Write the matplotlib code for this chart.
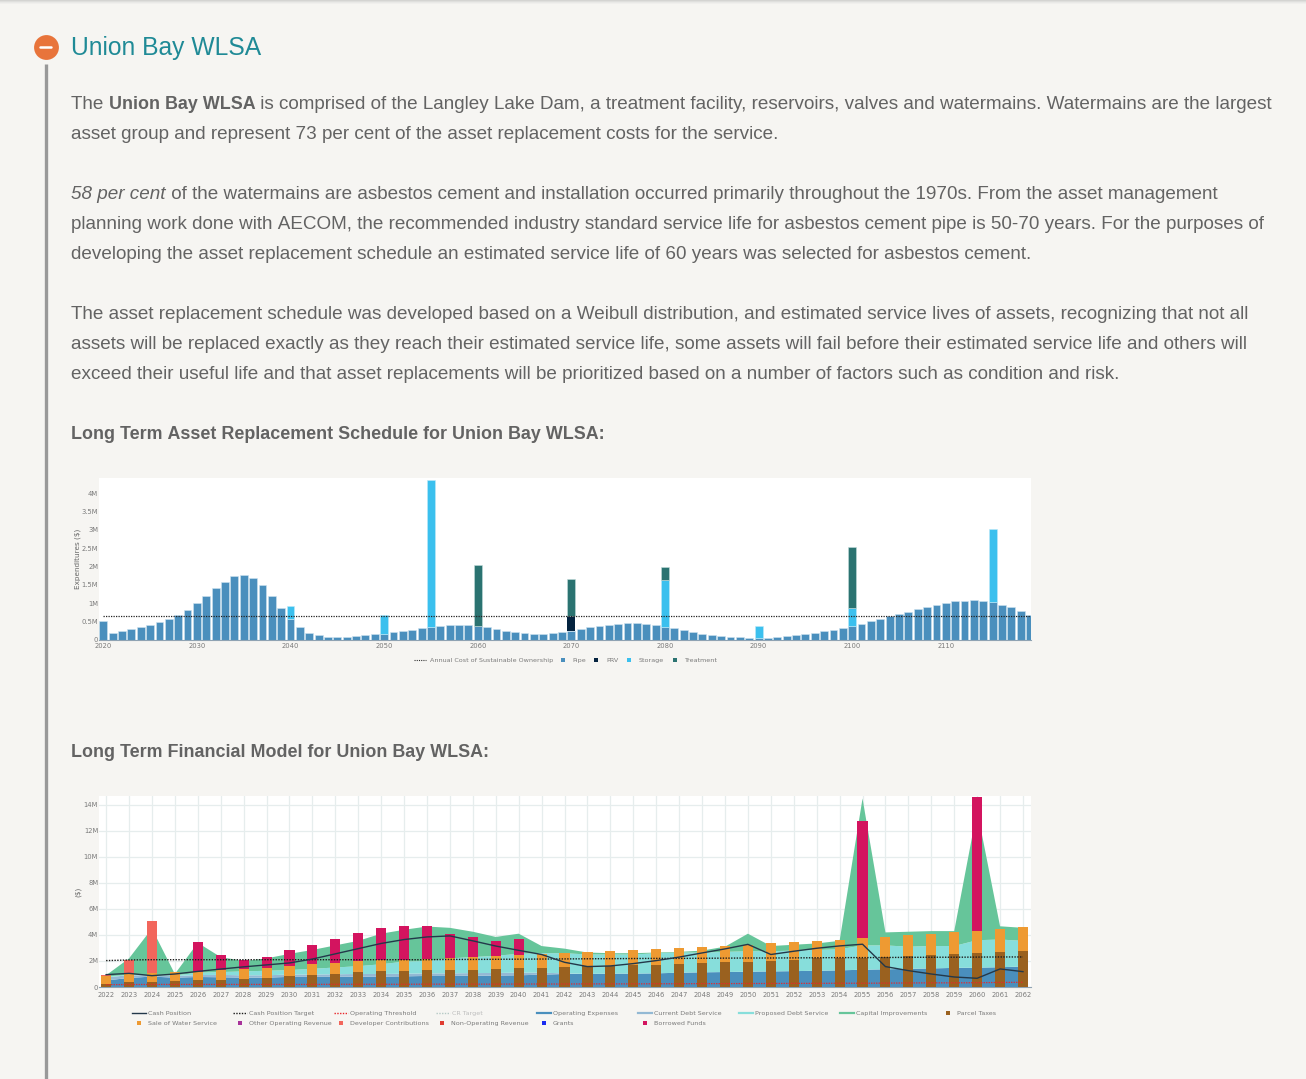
import numpy as np
import matplotlib
matplotlib.use('Agg')
import matplotlib.pyplot as plt

W, H = 1306, 1079
BG = '#f6f5f2'
BODY = '#636363'
TICK = '#7a7a7a'
BODY_FONT = 'Liberation Sans'
BODY_SIZE = 13.63
BOLD_SIZE = 12.86

# replacement schedule, $M per year
sched_years = list(range(2020, 2120))
pipe = [
    0.51, 0.18, 0.235, 0.29, 0.35, 0.42, 0.50, 0.58, 0.68, 0.83,
    1.00, 1.20, 1.42, 1.59, 1.74, 1.78, 1.70, 1.50, 1.21, 0.86,
    0.57, 0.35, 0.20, 0.13, 0.09, 0.07, 0.09, 0.10, 0.13, 0.15,
    0.17, 0.21, 0.25, 0.28, 0.33, 0.36, 0.39, 0.42, 0.42, 0.42,
    0.39, 0.36, 0.31, 0.25, 0.21, 0.18, 0.17, 0.17, 0.20, 0.22,
    0.25, 0.29, 0.35, 0.38, 0.42, 0.445, 0.46, 0.46, 0.445, 0.42,
    0.36, 0.32, 0.27, 0.22, 0.17, 0.14, 0.11, 0.09, 0.07, 0.055,
    0.06, 0.06, 0.09, 0.11, 0.14, 0.16, 0.20, 0.24, 0.28, 0.33,
    0.39, 0.44, 0.51, 0.56, 0.65, 0.70, 0.77, 0.85, 0.90, 0.95,
    1.00, 1.05, 1.06, 1.08, 1.06, 1.03, 0.96, 0.90, 0.79, 0.69,
]
prv = {2070: 0.41}
storage = {2040: 0.36, 2050: 0.51, 2055: 3.99, 2080: 1.27, 2090: 0.31, 2100: 0.49, 2115: 1.99}
treatment = {2060: 1.65, 2070: 0.99, 2080: 0.36, 2100: 1.65}
sustainable_cost = 0.65
sched_ticks = [2020, 2030, 2040, 2050, 2060, 2070, 2080, 2090, 2100, 2110]
sched_yticks = [0, 0.5, 1, 1.5, 2, 2.5, 3, 3.5, 4]
sched_ylabels = ['0', '0.5M', '1M', '1.5M', '2M', '2.5M', '3M', '3.5M', '4M']

# financial model, $M per year
fin_years = list(range(2022, 2063))
parcel = [
    0.26, 0.35, 0.39, 0.44, 0.51, 0.56, 0.64, 0.72, 0.82, 0.90,
    1.03, 1.16, 1.20, 1.23, 1.28, 1.31, 1.34, 1.41, 1.46, 1.49,
    1.54, 1.59, 1.62, 1.67, 1.72, 1.80, 1.85, 1.90, 1.93, 1.98,
    2.05, 2.23, 2.23, 2.26, 2.30, 2.36, 2.47, 2.57, 2.62, 2.70, 2.80,
]
water_sales = [
    0.59, 0.73, 0.66, 0.72, 0.65, 0.72, 0.72, 0.77, 0.80, 0.85,
    0.84, 0.84, 0.85, 0.82, 0.90, 0.95, 1.00, 0.98, 1.00, 1.03,
    1.08, 1.11, 1.15, 1.18, 1.21, 1.23, 1.26, 1.28, 1.33, 1.38,
    1.39, 1.34, 1.42, 1.52, 1.55, 1.62, 1.61, 1.64, 1.69, 1.74, 1.80,
]
developer = [0.05, 0.97, 4.03] + [0] * 38
borrowed = [0, 0, 0, 0,
            2.31, 1.16, 0.69, 0.80, 1.23, 1.51, 1.85, 2.19, 2.45, 2.65, 2.55, 1.85, 1.51, 1.13, 1.24,
            0, 0, 0, 0, 0, 0, 0, 0, 0, 0, 0, 0, 0, 0,
            9.01, 0, 0, 0, 0, 10.3, 0, 0]
opex = [
    0.50, 0.70, 0.80, 0.72, 0.77, 0.75, 0.72, 0.72, 0.78, 0.78,
    0.78, 0.80, 0.80, 0.82, 0.85, 0.85, 0.87, 0.88, 0.90, 0.95,
    1.00, 1.00, 1.03, 1.03, 1.05, 1.10, 1.13, 1.15, 1.18, 1.20,
    1.22, 1.25, 1.28, 1.33, 1.36, 1.40, 1.43, 1.47, 1.49, 1.52, 1.58,
]
current_debt = [
    0.25, 0.20, 0.10, 0.12, 0.15, 0.18, 0.18, 0.18, 0.18, 0.18,
    0.20, 0.20, 0.20, 0.20, 0.20, 0.20, 0.20, 0.20, 0.20, 0.15, 0.05,
] + [0] * 20
proposed_debt = [
    0.05, 0.05, 0.00, 0.05, 0.18, 0.22, 0.30, 0.35, 0.34, 0.44,
    0.52, 0.60, 0.75, 0.93, 0.95, 1.15, 1.23, 1.32, 1.45, 1.50,
    1.55, 1.50, 1.47, 1.47, 1.55, 1.55, 1.52, 1.55, 1.57, 1.55,
    1.58, 1.60, 1.62, 1.87, 1.84, 1.70, 1.72, 1.68, 2.11, 2.13, 1.97,
]
capital = [
    0.10, 1.25, 3.60, 0.11, 2.30, 1.15, 0.80, 0.95, 1.25, 1.45,
    1.70, 1.95, 2.35, 2.45, 2.65, 2.35, 1.95, 1.45, 1.55, 0.55,
    0.35, 0.15, 0.10, 0.10, 0.05, 0.05, 0.15, 0.40, 1.35, 0.40,
    0.45, 0.50, 0.65, 11.3, 1.00, 1.15, 1.15, 1.15, 10.0, 1.02, 1.00,
]
cash = [
    0.95, 1.05, 0.87, 1.00, 1.20, 1.38, 1.55, 1.70, 1.85, 2.15,
    2.55, 2.95, 3.35, 3.65, 3.85, 3.93, 3.55, 3.15, 2.82, 2.50,
    1.90, 1.57, 1.62, 1.80, 2.03, 2.30, 2.62, 2.93, 3.28, 2.50,
    2.75, 2.98, 3.16, 3.29, 1.57, 1.26, 1.00, 0.77, 0.67, 1.39, 1.18,
]
cash_target = [
    2.03, 2.08, 2.10, 2.10, 2.10, 2.10, 2.10, 2.10, 2.10, 2.10,
    2.10, 2.10, 2.10, 2.10, 2.10, 2.12, 2.12, 2.13, 2.14, 2.15,
    2.16, 2.17, 2.18, 2.19, 2.20, 2.20, 2.21, 2.22, 2.23, 2.23,
    2.24, 2.25, 2.26, 2.26, 2.27, 2.28, 2.29, 2.29, 2.30, 2.31, 2.31,
]
op_threshold = [
    0.18, 0.19, 0.20, 0.20, 0.20, 0.20, 0.20, 0.20, 0.20, 0.20,
    0.21, 0.21, 0.21, 0.21, 0.22, 0.22, 0.22, 0.22, 0.23, 0.23,
    0.23, 0.24, 0.24, 0.24, 0.25, 0.25, 0.26, 0.26, 0.27, 0.27,
    0.28, 0.28, 0.29, 0.29, 0.30, 0.31, 0.32, 0.32, 0.33, 0.35, 0.36,
]
fin_yticks = [0, 2, 4, 6, 8, 10, 12, 14]
fin_ylabels = ['0', '2M', '4M', '6M', '8M', '10M', '12M', '14M']

C_PIPE, C_PRV, C_STORAGE, C_TREAT = '#4a8fbd', '#04233f', '#3bc0ee', '#2b7371'
C_OPEX, C_CURRENT, C_PROPOSED, C_CAPITAL = '#4a8fbd', '#93b9d4', '#87dedb', '#66c59a'
C_PARCEL, C_SALE, C_DEV, C_BORROW = '#9a611f', '#ee9a32', '#f2665c', '#d3145f'

paragraphs = [
    (102, [('The ', 'normal', 'normal'), ('Union Bay WLSA', 'bold', 'normal'),
           (' is comprised of the Langley Lake Dam, a treatment facility, reservoirs, valves and watermains. Watermains are the largest', 'normal', 'normal')]),
    (132, [('asset group and represent 73 per cent of the asset replacement costs for the service.', 'normal', 'normal')]),
    (192, [('58 per cent', 'normal', 'italic'),
           (' of the watermains are asbestos cement and installation occurred primarily throughout the 1970s. From the asset management', 'normal', 'normal')]),
    (222, [('planning work done with AECOM, the recommended industry standard service life for asbestos cement pipe is 50-70 years. For the purposes of', 'normal', 'normal')]),
    (252, [('developing the asset replacement schedule an estimated service life of 60 years was selected for asbestos cement.', 'normal', 'normal')]),
    (312, [('The asset replacement schedule was developed based on a Weibull distribution, and estimated service lives of assets, recognizing that not all', 'normal', 'normal')]),
    (342, [('assets will be replaced exactly as they reach their estimated service life, some assets will fail before their estimated service life and others will', 'normal', 'normal')]),
    (372, [('exceed their useful life and that asset replacements will be prioritized based on a number of factors such as condition and risk.', 'normal', 'normal')]),
    (432, [('Long Term Asset Replacement Schedule for Union Bay WLSA:', 'bold', 'normal')]),
    (750, [('Long Term Financial Model for Union Bay WLSA:', 'bold', 'normal')]),
]


def px_axes(fig, x0, y0, x1, y1):
    return fig.add_axes([x0 / W, 1 - y1 / H, (x1 - x0) / W, (y1 - y0) / H])


def style_chart(ax):
    ax.set_facecolor('white')
    for s in ['top', 'left', 'right']:
        ax.spines[s].set_visible(False)
    ax.spines['bottom'].set_color('#8fa3b3')
    ax.spines['bottom'].set_linewidth(0.8)
    ax.tick_params(length=0, labelsize=4.9, labelcolor=TICK, pad=2)
    ax.tick_params(axis='y', pad=0.6)


def draw_runs(page, x, y, runs):
    rend = page.figure.canvas.get_renderer()
    for text, weight, style in runs:
        size = BOLD_SIZE if weight == 'bold' else BODY_SIZE
        # nbsp so the spaces at the ends of a run are measured too
        t = page.text(x, y + 2.6, text.replace(' ', '\u00a0'), fontsize=size, family=BODY_FONT,
                      weight=weight, style=style, color=BODY, va='center', ha='left')
        x = page.transData.inverted().transform((t.get_window_extent(rend).x1, 0))[0]


def legend_line(page, x, y, label, color, ls='-', lw=1.0, w=14, tc=TICK):
    page.plot([x, x + w], [y, y], color=color, ls=ls, lw=lw)
    page.text(x + w + 2, y, label, fontsize=4.6, color=tc, va='center_baseline', ha='left')


def legend_square(page, x, y, label, color, tx):
    page.scatter([x], [y], marker='s', s=11, color=color, linewidths=0)
    page.text(tx, y, label, fontsize=4.6, color=TICK, va='center_baseline', ha='left')


fig = plt.figure(figsize=(W / 100, H / 100), dpi=100, facecolor=BG)

page = fig.add_axes([0, 0, 1, 1])
page.set_xlim(0, W)
page.set_ylim(H, 0)
page.axis('off')

# shadow along the top of the page
for i, c in enumerate(['#d4d4d2', '#dfdfdd', '#e9e9e7', '#f0efed']):
    page.fill_between([0, W], i, i + 1, color=c, lw=0)

page.plot([46, 46], [64, H], color='#999999', lw=2.4, solid_capstyle='butt')
page.scatter([45.5], [46.5], s=320, color='#e8743b', linewidths=0)
page.plot([40, 51], [46.5, 46.5], color='white', lw=1.8, solid_capstyle='round')
page.text(71, 48, 'Union Bay WLSA', fontsize=17.75, family=BODY_FONT, color='#1f8a96', va='center')

for y, runs in paragraphs:
    draw_runs(page, 71, y, runs)

# schedule chart
ax1 = px_axes(fig, 99, 478, 1031, 640)
style_chart(ax1)
bw = 0.84
ax1.bar(sched_years, pipe, width=bw, color=C_PIPE, edgecolor='#cfe3f0', linewidth=0.4)
for yr, val in prv.items():
    ax1.bar(yr, val, bottom=pipe[yr - 2020], width=bw, color=C_PRV, linewidth=0)
for yr, val in storage.items():
    ax1.bar(yr, val, bottom=pipe[yr - 2020], width=bw, color=C_STORAGE, edgecolor='#bfe9f8', linewidth=0.4)
for yr, val in treatment.items():
    base = pipe[yr - 2020] + prv.get(yr, 0) + storage.get(yr, 0)
    ax1.bar(yr, val, bottom=base, width=bw, color=C_TREAT, edgecolor='#c4dcdb', linewidth=0.4)
ax1.plot(sched_years, [sustainable_cost] * len(sched_years), color='#222222', ls=(0, (1, 1)), lw=0.9)
ax1.set_xlim(2019.54, 2119.1)
ax1.set_ylim(0, 4.41)
ax1.set_xticks(sched_ticks)
ax1.set_yticks(sched_yticks)
ax1.set_yticklabels(sched_ylabels)
ax1.set_ylabel('Expenditures ($)', fontsize=5.2, color='#666666')
ax1.yaxis.set_label_coords(-18 / 932, 0.5)

# financial chart
ax2 = px_axes(fig, 99, 796, 1031, 987)
style_chart(ax2)
ax2.tick_params(axis='x', pad=3.5)
ax2.grid(True, color='#e6eded', lw=0.9)
ax2.set_axisbelow(True)
ax2.stackplot(fin_years, opex, current_debt, proposed_debt, capital,
              colors=[C_OPEX, C_CURRENT, C_PROPOSED, C_CAPITAL], linewidth=0, zorder=2)
bottom = np.zeros(len(fin_years))
for vals, col in [(parcel, C_PARCEL), (water_sales, C_SALE), (developer, C_DEV), (borrowed, C_BORROW)]:
    ax2.bar(fin_years, vals, bottom=bottom, width=0.44, color=col, linewidth=0, zorder=3)
    bottom = bottom + np.array(vals)
ax2.plot(fin_years, op_threshold, color='#e8262a', ls=(0, (1, 1)), lw=0.9, zorder=4)
ax2.plot(fin_years, cash_target, color='#1c1c1c', ls=(0, (1, 1)), lw=1.0, zorder=4)
ax2.plot(fin_years, cash, color='#23384a', lw=1.0, zorder=5)
ax2.set_xlim(2021.69, 2062.35)
ax2.set_ylim(0, 14.69)
ax2.set_xticks(fin_years)
ax2.set_yticks(fin_yticks)
ax2.set_yticklabels(fin_ylabels)
ax2.set_ylabel('($)', fontsize=5.2, color='#666666')
ax2.yaxis.set_label_coords(-18 / 932, 0.5)

# legends, placed by hand in page pixels
page.plot([414, 426], [660, 660], color='#333333', ls=(0, (1, 1)), lw=0.8)
page.text(430, 660, 'Annual Cost of Sustainable Ownership', fontsize=4.6, color=TICK, va='center_baseline')
legend_square(page, 563, 660, 'Pipe', C_PIPE, 572)
legend_square(page, 596, 660, 'PRV', C_PRV, 606)
legend_square(page, 629, 660, 'Storage', C_STORAGE, 639)
legend_square(page, 675, 660, 'Treatment', C_TREAT, 684)

legend_line(page, 132, 1013, 'Cash Position', '#23384a')
legend_line(page, 233, 1013, 'Cash Position Target', '#1c1c1c', ls=(0, (1, 1)))
legend_line(page, 334, 1013, 'Operating Threshold', '#e8262a', ls=(0, (1, 1)))
legend_line(page, 436, 1013, 'CR Target', '#b5c9c5', ls=(0, (1, 1)), tc='#bdbdbd')
legend_line(page, 537, 1013, 'Operating Expenses', C_OPEX, lw=1.6)
legend_line(page, 638, 1013, 'Current Debt Service', C_CURRENT, lw=1.6)
legend_line(page, 739, 1013, 'Proposed Debt Service', C_PROPOSED, lw=1.6)
legend_line(page, 840, 1013, 'Capital Improvements', C_CAPITAL, lw=1.6)
legend_square(page, 948, 1013, 'Parcel Taxes', C_PARCEL, 957)
legend_square(page, 139, 1023, 'Sale of Water Service', C_SALE, 148)
legend_square(page, 240, 1023, 'Other Operating Revenue', '#a8329a', 249)
legend_square(page, 341, 1023, 'Developer Contributions', C_DEV, 350)
legend_square(page, 442, 1023, 'Non-Operating Revenue', '#e03c31', 451)
legend_square(page, 544, 1023, 'Grants', '#1a2cf0', 553)
legend_square(page, 645, 1023, 'Borrowed Funds', C_BORROW, 654)

fig.savefig('out.png', dpi=100, facecolor=BG)
